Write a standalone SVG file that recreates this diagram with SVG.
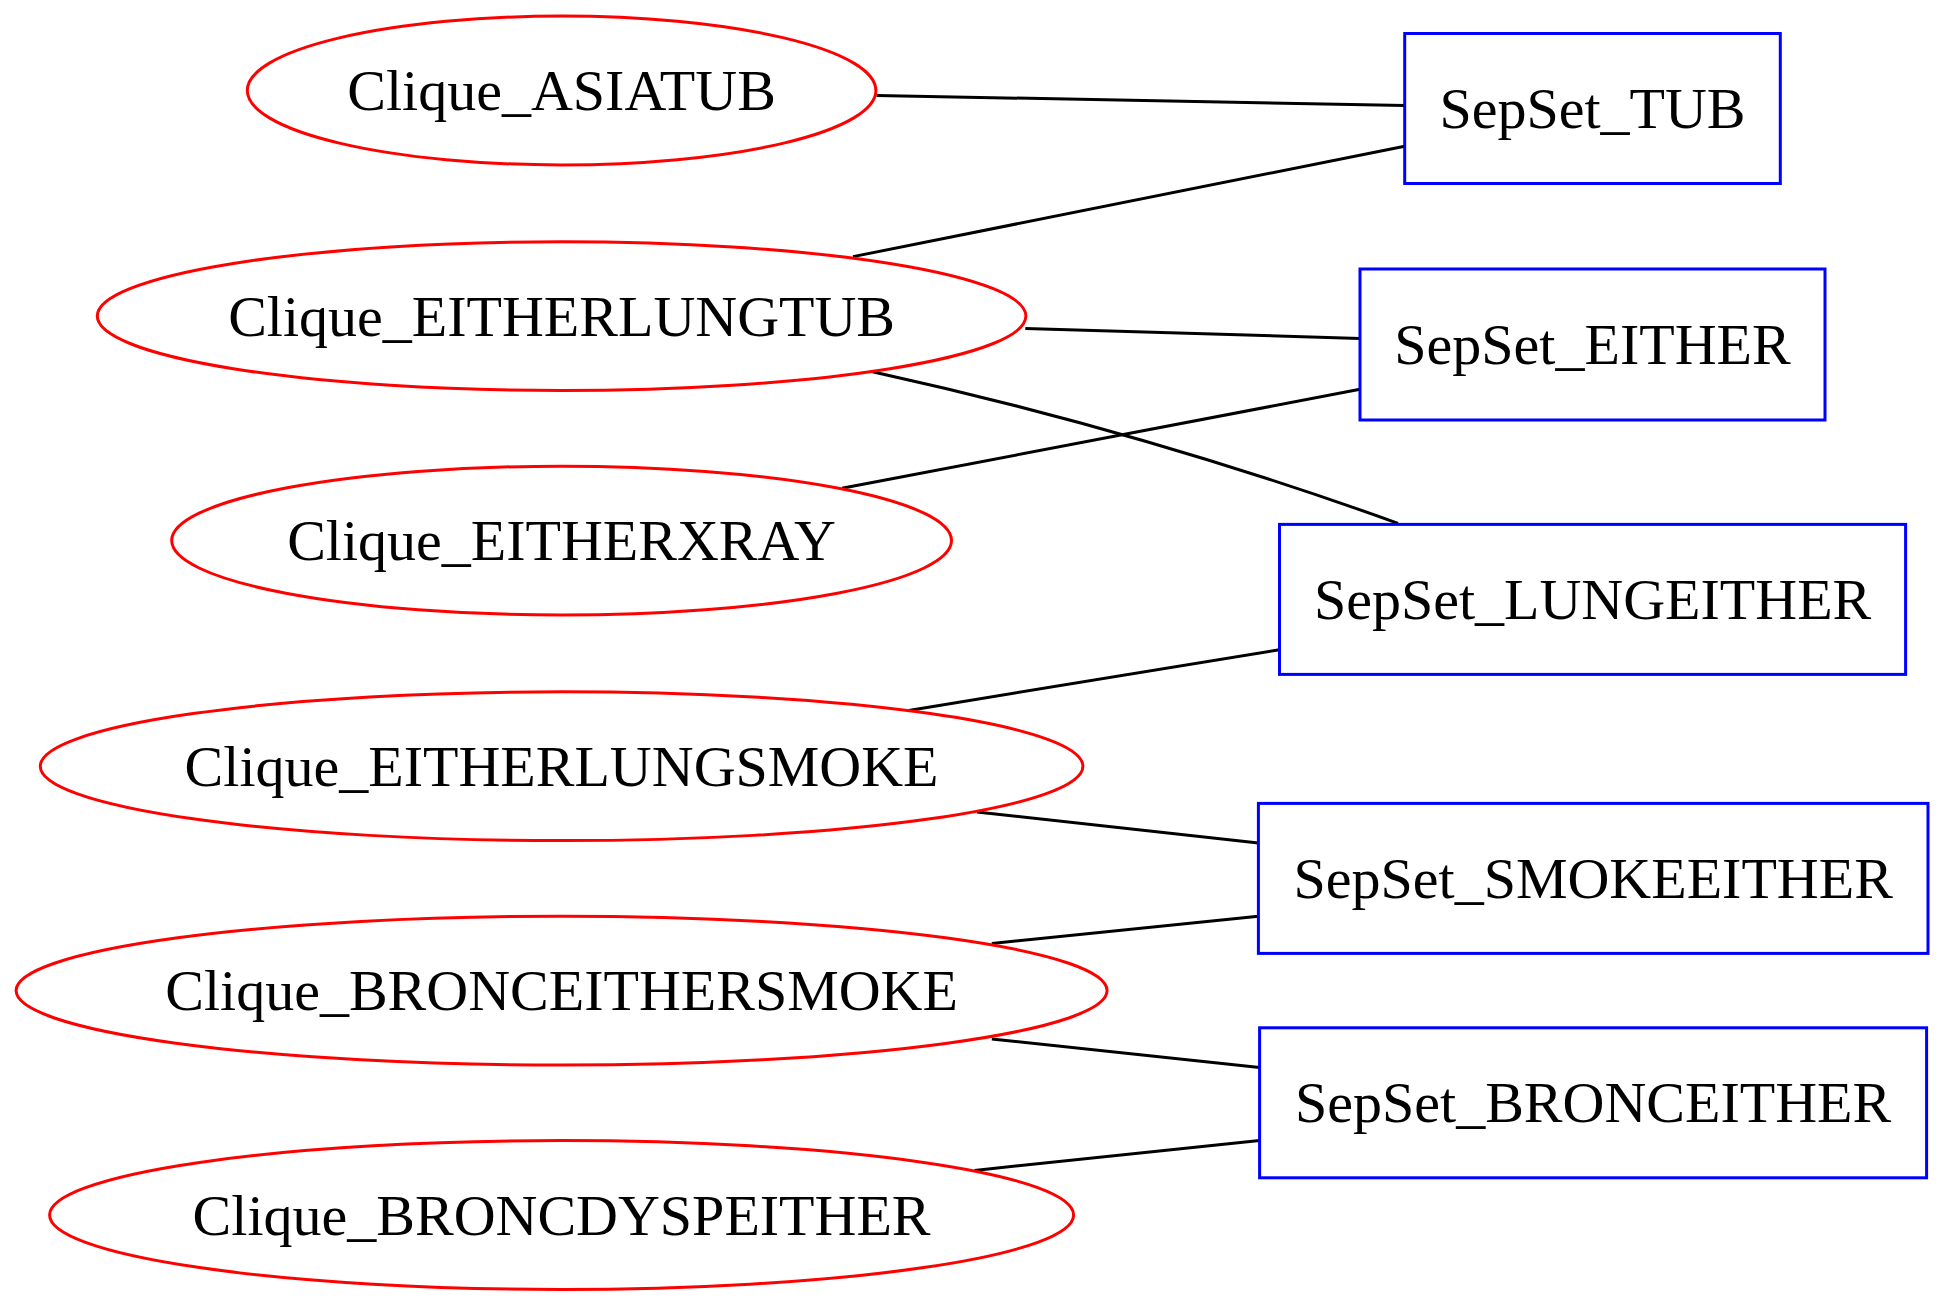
<svg xmlns="http://www.w3.org/2000/svg" width="1944" height="1308" viewBox="0 0 1944 1308">
<style>
.clique ellipse{fill:none;stroke:#ff0000;stroke-width:3}
.sepset rect{fill:none;stroke:#0000ff;stroke-width:3}
text{font-family:"Liberation Serif","Times New Roman",serif;font-size:58px;fill:#000;text-anchor:middle}
.edges path{fill:none;stroke:#000;stroke-width:3}
</style>
<rect width="1944" height="1308" fill="#fff"/>
<g class="edges" id="edges">
<path d="M876.5,95.5 L1404.7,105.4"/>
<path d="M853,256.6 L1404.7,146.3"/>
<path d="M1025.3,328.5 L1360,338.5"/>
<path d="M872.5,371.7 C1047.5,410.2 1223,460.3 1398,523.3"/>
<path d="M842,488.3 L1360,389.3"/>
<path d="M908.8,710.4 L1279.5,649.7"/>
<path d="M977,812 L1258.4,843"/>
<path d="M991.8,943.5 L1258.4,916.2"/>
<path d="M991.8,1039 L1259.6,1067.5"/>
<path d="M974.5,1170.4 L1259.6,1140.6"/>
</g>
<g class="clique" id="Clique_ASIATUB"><ellipse cx="561.6" cy="90.5" rx="314.3" ry="74.4"/><text x="561.6" y="110">Clique_ASIATUB</text></g>
<g class="clique" id="Clique_EITHERLUNGTUB"><ellipse cx="561.6" cy="316.1" rx="464.3" ry="74.4"/><text x="561.6" y="335.6">Clique_EITHERLUNGTUB</text></g>
<g class="clique" id="Clique_EITHERXRAY"><ellipse cx="561.6" cy="540.6" rx="389.9" ry="74.4"/><text x="561.6" y="560.1">Clique_EITHERXRAY</text></g>
<g class="clique" id="Clique_EITHERLUNGSMOKE"><ellipse cx="561.6" cy="766.2" rx="521.3" ry="74.4"/><text x="561.6" y="785.7">Clique_EITHERLUNGSMOKE</text></g>
<g class="clique" id="Clique_BRONCEITHERSMOKE"><ellipse cx="561.6" cy="990.6" rx="545.5" ry="74.4"/><text x="561.6" y="1010.1">Clique_BRONCEITHERSMOKE</text></g>
<g class="clique" id="Clique_BRONCDYSPEITHER"><ellipse cx="561.6" cy="1215" rx="512" ry="74.4"/><text x="561.6" y="1234.5">Clique_BRONCDYSPEITHER</text></g>
<g class="sepset" id="SepSet_TUB"><rect x="1404.7" y="33.5" width="375.6" height="150"/><text x="1592.5" y="128">SepSet_TUB</text></g>
<g class="sepset" id="SepSet_EITHER"><rect x="1360" y="269" width="465" height="151"/><text x="1592.5" y="364">SepSet_EITHER</text></g>
<g class="sepset" id="SepSet_LUNGEITHER"><rect x="1279.5" y="524.4" width="626.1" height="150"/><text x="1592.6" y="618.9">SepSet_LUNGEITHER</text></g>
<g class="sepset" id="SepSet_SMOKEEITHER"><rect x="1258.4" y="803.4" width="669.6" height="150"/><text x="1593.2" y="897.9">SepSet_SMOKEEITHER</text></g>
<g class="sepset" id="SepSet_BRONCEITHER"><rect x="1259.6" y="1027.8" width="667" height="150"/><text x="1593.1" y="1122.3">SepSet_BRONCEITHER</text></g>
</svg>
